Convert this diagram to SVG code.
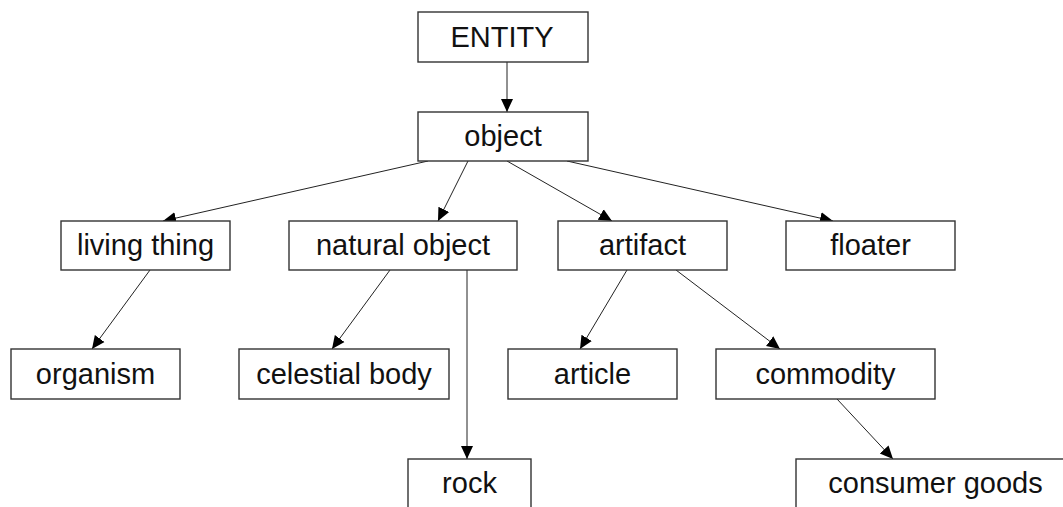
<svg xmlns="http://www.w3.org/2000/svg" width="1063" height="507" viewBox="0 0 1063 507">
<style>
.box{fill:#fff;stroke:#333;stroke-width:1.4}
.lbl{font-family:"Liberation Sans",Arial,sans-serif;font-size:29px;fill:#111;text-anchor:middle}
.edge{stroke:#222;stroke-width:1;fill:none;marker-end:url(#arr)}
</style>
<defs>
<marker id="arr" markerUnits="userSpaceOnUse" markerWidth="14" markerHeight="14" viewBox="0 0 14 14" refX="13" refY="7" orient="auto">
<path d="M0,1 L13,7 L0,13 Z" fill="#000"/>
</marker>
</defs>
<rect width="1063" height="507" fill="#fff"/>
<g id="connectors">
<line class="edge" x1="507" y1="62" x2="507" y2="112"/>
<line class="edge" x1="428" y1="161" x2="163" y2="221"/>
<line class="edge" x1="468" y1="161" x2="438" y2="221"/>
<line class="edge" x1="507" y1="161" x2="612" y2="221"/>
<line class="edge" x1="567" y1="161" x2="833" y2="221"/>
<line class="edge" x1="150" y1="270" x2="92" y2="349"/>
<line class="edge" x1="390" y1="270" x2="332" y2="349"/>
<line class="edge" x1="467" y1="270" x2="467" y2="459"/>
<line class="edge" x1="627" y1="270" x2="580" y2="349"/>
<line class="edge" x1="676" y1="270" x2="780" y2="349"/>
<line class="edge" x1="837" y1="399" x2="893" y2="459"/>
</g>
<g id="entity"><rect class="box" x="418" y="12" width="170" height="50"/><text class="lbl" x="502" y="47">ENTITY</text></g>
<g id="object"><rect class="box" x="418" y="112" width="170" height="49"/><text class="lbl" x="503" y="146">object</text></g>
<g id="living-thing"><rect class="box" x="61" y="221" width="169" height="49"/><text class="lbl" x="145.5" y="255">living thing</text></g>
<g id="natural-object"><rect class="box" x="289" y="221" width="228" height="49"/><text class="lbl" x="403" y="255">natural object</text></g>
<g id="artifact"><rect class="box" x="558" y="221" width="169" height="49"/><text class="lbl" x="642.5" y="255">artifact</text></g>
<g id="floater"><rect class="box" x="786" y="221" width="169" height="49"/><text class="lbl" x="870.5" y="255">floater</text></g>
<g id="organism"><rect class="box" x="11" y="349" width="169" height="50"/><text class="lbl" x="95.5" y="384">organism</text></g>
<g id="celestial-body"><rect class="box" x="239" y="349" width="210" height="50"/><text class="lbl" x="344" y="384">celestial body</text></g>
<g id="article"><rect class="box" x="508" y="349" width="169" height="50"/><text class="lbl" x="592.5" y="384">article</text></g>
<g id="commodity"><rect class="box" x="716" y="349" width="219" height="50"/><text class="lbl" x="825.5" y="384">commodity</text></g>
<g id="rock"><rect class="box" x="408" y="459" width="123" height="60"/><text class="lbl" x="469.5" y="493">rock</text></g>
<g id="consumer-goods"><rect class="box" x="796" y="459" width="279" height="60"/><text class="lbl" x="935.5" y="493">consumer goods</text></g>
</svg>
